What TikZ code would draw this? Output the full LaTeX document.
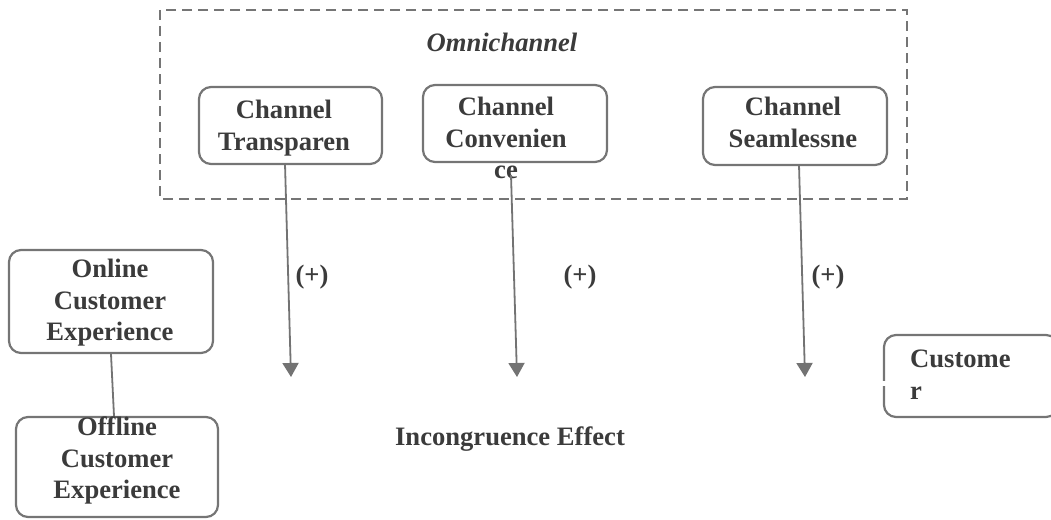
\documentclass[tikz,border=0pt]{standalone}
\usepackage{fontspec}
\setmainfont{Liberation Serif}
\usetikzlibrary{arrows.meta}

\begin{document}
\begin{tikzpicture}[x=1pt,y=-1pt,
    box/.style={draw=bordergray, line width=2.2pt, rounded corners=12pt, inner sep=0pt},
    txt/.style={text=txtgray, font=\fontsize{26.6}{31.5}\selectfont\bfseries, align=center, inner sep=0pt},
    frame/.style={draw=bordergray, line width=2.2pt, dash pattern=on 10pt off 6pt},
    link/.style={draw=linegray, line width=1.8pt, -{Triangle[length=14pt,width=16pt]}}]
    \definecolor{txtgray}{rgb}{0.23,0.23,0.23}
    \definecolor{linegray}{rgb}{0.45,0.45,0.45}
    \definecolor{bordergray}{rgb}{0.46,0.46,0.46}
    \useasboundingbox (0,0) rectangle (1051,519);
    \clip (0,0) rectangle (1051,519);
    %omnichannel frame
    \draw[frame] (160,10) rectangle (907,199);
    \node[txt, font=\fontsize{26.6}{31.5}\selectfont\bfseries\itshape] (omni) at (502,42) {Omnichannel};
    %boxes
    \node[box, minimum width=183pt, minimum height=77pt] (trans) at (290.5,125.5) {};
    \node[box, minimum width=184pt, minimum height=77pt] (conv) at (515,123.5) {};
    \node[box, minimum width=184pt, minimum height=78pt] (seam) at (795,126) {};
    \node[box, minimum width=204pt, minimum height=103pt] (online) at (111,301.5) {};
    \node[box, minimum width=202pt, minimum height=100pt] (offline) at (117,467) {};
    \node[box, minimum width=174pt, minimum height=82pt] (cust) at (971,376) {};
    \fill[white] (881,381) rectangle (888,386);
    %texts
    \node[txt, anchor=north] (transtxt) at (284,100) {Channel\\Transparen};
    \node[txt, anchor=north] (convtxt) at (506,97) {Channel\\Convenien\\ce};
    \node[txt, anchor=north] (seamtxt) at (793,97) {Channel\\Seamlessne};
    \node[txt, anchor=north] (onlinetxt) at (110,259) {Online\\Customer\\Experience};
    \node[txt, anchor=north] (offlinetxt) at (117,417) {Offline\\Customer\\Experience};
    \node[txt, anchor=north west, align=left] (custtxt) at (910,350) {Custome\\r};
    \node[txt, anchor=base] (incong) at (510,445) {Incongruence Effect};
    %arrows
    \coordinate (a1) at (285,164);
    \coordinate (e1) at (291,377);
    \coordinate (a2) at (511,175);
    \coordinate (e2) at (517,377);
    \coordinate (a3) at (799,165);
    \coordinate (e3) at (805,377);
    \draw[link] (a1) -- (e1);
    \draw[link] (a2) -- (e2);
    \draw[link] (a3) -- (e3);
    \draw[draw=linegray, line width=1.8pt] (online.south) -- ([xshift=-3pt]offline.north);
    %signs
    \node[txt] (p1) at (312,277) {(+)};
    \node[txt] (p2) at (580,277) {(+)};
    \node[txt] (p3) at (828,277) {(+)};
\end{tikzpicture}
\end{document}
